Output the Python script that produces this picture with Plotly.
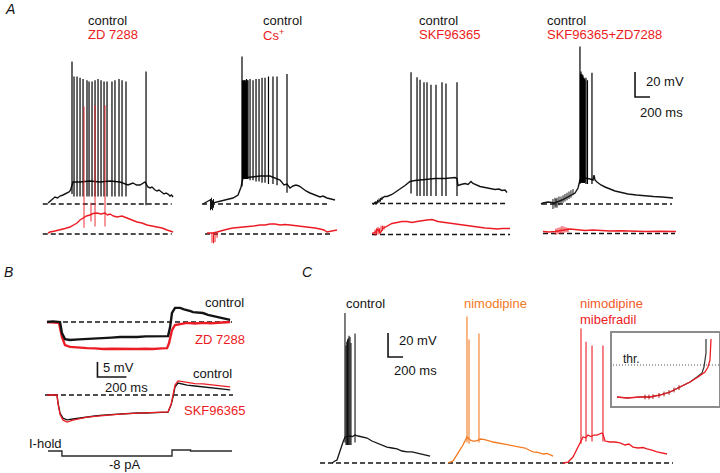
import plotly.graph_objects as go

W, H = 720, 473
BLACK = "#141414"
SPIKE = "#000000"
RED = "#ec1c24"
ORANGE = "#f47a22"
ORANGE_RED = "#f15a29"
GRAY = "#8c8c8c"
FONT = "Liberation Sans, Arial, sans-serif"

# ================= DATA =================
# Panel A  (time in ms from trace start, voltage in mV relative to the dashed rest level)
SCALE_A_MS, SCALE_A_MV = 200, 20
SCALE_B_MS, SCALE_B_MV = 200, 5
SCALE_C_MS, SCALE_C_MV = 200, 20

a1_titles = ["control", "ZD 7288"]
a2_titles = ["control", "Cs<sup>+</sup>"]
a3_titles = ["control", "SKF96365"]
a4_titles = ["control", "SKF96365+ZD7288"]

# column 1: control / ZD 7288
a1_ctrl_t = [0, 27, 53, 93, 127, 160, 200, 227, 253, 280, 300, 320, 333, 427, 560, 693, 827, 960, 1053, 1067,
             1100, 1133, 1180, 1227, 1293, 1307, 1333, 1360, 1387, 1427, 1453, 1480, 1520, 1547, 1573, 1600, 1627, 1647, 1667]
a1_ctrl_v = [0.8, 2.4, 4, 5.6, 4.8, 6.4, 7.2, 8, 8.8, 9.6, 11, 15.2, 17.6, 17.6, 18.4, 17.6, 18.4, 17.6, 16, 15.2,
             16, 16.8, 15.2, 15.2, 17.6, 16, 13.6, 12.8, 13.6, 11.2, 10.4, 11.2, 8.8, 8, 8.8, 8, 6.4, 7.2, 5.6]
a1_ctrl_spk_t = [320, 347, 387, 427, 467, 520, 547, 587, 627, 667, 707, 747, 787, 853, 893, 947, 987, 1040, 1307]
a1_ctrl_spk_pk = [114, 102, 102, 101, 100, 99, 98, 98, 99, 100, 99, 98, 98, 98, 99, 100, 99, 98, 106]
a1_ctrl_spk_tr = [8, 6, 6, 6, 6, 6, 6, 6, 6, 6, 6, 6, 6, 6, 6, 6, 6, 6, -1]
a1_drug_t = [0, 27, 93, 160, 227, 293, 340, 387, 427, 467, 513, 560, 600, 653, 707, 760, 793, 827, 873, 920,
             987, 1053, 1120, 1187, 1253, 1320, 1387, 1453, 1520, 1587, 1627, 1667]
a1_drug_v = [0.8, 1.6, 2.4, 3.2, 4.4, 5.6, 7.2, 8.8, 11.2, 12.8, 14.4, 15.2, 16.4, 16.8, 16, 16.8, 15.2, 16, 14.4, 13.6,
             14.4, 12.8, 11.2, 9.6, 8.8, 7.2, 6.4, 5.6, 4.8, 3.2, 2.4, 1.6]
a1_drug_spk_t = [480, 573, 627, 760]
a1_drug_spk_pk = [102, 25, 103, 103]
a1_drug_spk_tr = [5, 10, 6, 6]
a1_ctrl_rest = [-70, 1650]
a1_drug_rest = [-70, 1650]

# column 2: control / Cs+
a2_ctrl_t = [0, 53, 93, 133, 187, 227, 267, 333, 400, 467, 507, 533, 627, 760, 893, 960, 1027, 1080, 1120, 1160,
             1200, 1240, 1280, 1320, 1373, 1427, 1493, 1560, 1600, 1653, 1707, 1760]
a2_ctrl_v = [0, 1.6, 3.2, 0.8, 1.6, 2.4, 3.2, 4, 4.8, 7.2, 13.6, 20.8, 21.6, 22.4, 22.4, 20.8, 19.2, 15.2, 16, 12.8,
             14.4, 15.2, 14.4, 12.8, 10.4, 8.8, 7.2, 5.6, 6.4, 4.8, 4, 3.2]
a2_ctrl_spk_t = [520, 527, 533, 540, 547, 553, 560, 567, 573, 580, 590, 600, 627, 667, 707, 747, 787, 827, 873, 933, 987, 1120]
a2_ctrl_spk_pk = [118, 99, 98, 99, 98, 99, 99, 98, 99, 100, 99, 99, 100, 99, 100, 100, 101, 101, 102, 102, 102, 104]
a2_ctrl_spk_tr = [14, 20, 20, 20, 20, 20, 20, 20, 20, 20, 20, 20, 19, 19, 18, 18, 17, 17, 16, 16, 15, 9]
a2_ctrl_art_t = [100, 113, 127, 140]
a2_ctrl_art_lo = [-5, -4, -5, -3]
a2_ctrl_art_hi = [4, 5, 3, 4]
a2_drug_t = [53, 93, 133, 187, 227, 267, 333, 400, 493, 587, 673, 760, 827, 893, 960, 1027, 1093, 1160, 1227, 1293,
             1360, 1427, 1493, 1560, 1613, 1653, 1693, 1733, 1787]
a2_drug_v = [0.8, 0.8, 0.8, 1.6, 2.4, 3.2, 4, 4.8, 5.2, 5.6, 6.4, 7.2, 7.2, 8, 8, 7.2, 7.6, 7.2, 6.8, 6.4,
             6, 5.6, 4.8, 4, 3.2, 1.6, 2, 2.4, 3.2]
a2_drug_art_t = [120, 140, 160, 187]
a2_drug_art_lo = [-7, -7.5, -6.5, -3]
a2_drug_art_hi = [1, 1, 1, 1.6]
a2_ctrl_rest = [-13, 1693]
a2_drug_rest = [27, 1733]

# column 3: control / SKF96365
a3_ctrl_t = [0, 27, 53, 80, 120, 153, 187, 253, 333, 427, 493, 560, 693, 827, 960, 1093, 1120, 1133, 1173, 1227,
             1267, 1307, 1333, 1360, 1427, 1493, 1560, 1627, 1680, 1720, 1760, 1787]
a3_ctrl_v = [-0.8, 0.8, 0.8, 2.4, 4, 5.6, 5.6, 7.2, 10.4, 14.4, 17.6, 18.4, 19.2, 20, 20, 20.8, 20, 14.4, 15.2, 16,
             15.2, 17.6, 16, 15.2, 13.6, 12.8, 12, 11.2, 11.6, 10.4, 10.8, 8.8]
a3_ctrl_spk_t = [507, 587, 627, 680, 720, 773, 840, 920, 973, 1120]
a3_ctrl_spk_pk = [105, 101, 99, 97, 97, 95, 95, 97, 96, 97]
a3_ctrl_spk_tr = [8, 6, 6, 6, 6, 6, 6, 6, 6, 6]
a3_ctrl_art_t = [40, 60, 80, 100, 120]
a3_ctrl_art_lo = [-1, 0, 0.5, 1.5, 3]
a3_ctrl_art_hi = [2, 3, 4, 4.5, 5.5]
a3_drug_t = [-13, 27, 67, 93, 133, 160, 200, 253, 320, 387, 453, 520, 587, 653, 720, 787, 827, 867, 960, 1053,
             1140, 1227, 1313, 1400, 1493, 1587, 1653, 1720, 1827]
a3_drug_v = [0.8, 1.6, 4, 0.8, 4.8, 5.6, 7.2, 8.8, 9.6, 10.4, 10.4, 9.6, 10.4, 11.2, 11.6, 12, 11.2, 10.4, 9.6, 8.8,
             8, 7.2, 6.4, 5.6, 5.2, 4.8, 4.4, 4.8, 4.8]
a3_drug_art_t = [27, 47, 67, 87, 107, 127, 147]
a3_drug_art_lo = [-1, 0, 0, 1, 2, 3, 4]
a3_drug_art_hi = [4, 5, 6, 5, 7, 7, 7]
a3_ctrl_rest = [-13, 1800]
a3_drug_rest = [-13, 1827]

# column 4: control / SKF96365+ZD7288
a4_ctrl_t = [-27, 0, 67, 160, 253, 333, 427, 467, 493, 520, 560, 627, 667, 680, 693, 720, 773, 827, 893, 960,
             1047, 1133, 1247, 1360, 1473, 1587, 1660, 1733]
a4_ctrl_v = [0, 0.8, 1.6, 0.8, 3.2, 5.6, 8.8, 12.8, 19.2, 20, 20.8, 20, 19.2, 23, 19.2, 17.6, 15.2, 13.6, 12, 10.4,
             9.2, 8, 7.2, 6.4, 6, 5.6, 5.2, 4.8]
a4_ctrl_spk_t = [493, 500, 507, 513, 520, 527, 533, 540, 547, 553, 560, 573, 593, 653]
a4_ctrl_spk_pk = [126, 104, 106, 103, 104, 102, 103, 101, 101, 100, 99, 101, 99, 105]
a4_ctrl_spk_tr = [16, 17, 17, 17, 17, 17, 17, 17, 17, 17, 17, 16, 16, 16]
a4_ctrl_art_t = [133, 160, 173, 187, 213, 240, 267, 293, 320, 347, 373, 400]
a4_ctrl_art_lo = [-4, -3, -2, -3, -1, 0, 1, 2, 3, 4, 5, 7]
a4_ctrl_art_hi = [4, 5, 4, 5, 6, 6, 7, 8, 9, 10, 11, 12]
a4_drug_t = [0, 80, 160, 227, 293, 360, 427, 493, 560, 667, 760, 893, 1027, 1193, 1360, 1560, 1773]
a4_drug_v = [1.6, 1.2, 1.6, 2.4, 3.2, 3.6, 3.2, 2.8, 2.4, 2.8, 2.4, 2, 2.2, 1.8, 1.6, 1.8, 1.6]
a4_drug_art_t = [173, 200, 227, 253, 280, 307, 333]
a4_drug_art_lo = [-1, -0.5, 0, 0, 0.5, 1, 1]
a4_drug_art_hi = [4, 4.5, 5, 6, 5.5, 5, 4.5]
a4_ctrl_rest = [-13, 1720]
a4_drug_rest = [0, 1760]

# Panel B  (ms, mV)
b_top_labels = ["control", "ZD 7288"]
b_bot_labels = ["control", "SKF96365"]
b_top_ctrl_t = [0, 40, 90, 103, 124, 159, 220, 276, 330, 386, 445, 504, 560, 621, 680, 731, 790, 835, 849, 862,
                883, 918, 945, 966, 990, 1007, 1040, 1076, 1110, 1145, 1180, 1214, 1240, 1263]
b_top_ctrl_v = [0, 0.2, 0, -3.7, -5.7, -6, -5.8, -5.7, -5.5, -5.3, -5.2, -5, -5.1, -5, -4.8, -4.7, -4.8, -4.7, -1.7, 3,
                4.7, 4.7, 4.2, 4, 3.6, 3.3, 3.2, 3, 2.4, 2, 1.7, 1.3, 1, 0.7]
b_top_drug_t = [0, 40, 83, 103, 124, 159, 220, 276, 330, 386, 445, 504, 560, 621, 680, 731, 790, 828, 842, 862,
                883, 920, 966, 1020, 1076, 1130, 1194, 1263]
b_top_drug_v = [0, -0.2, -0.3, -5, -7.7, -8.3, -8.6, -8.7, -8.8, -9, -8.9, -9, -9.1, -9, -8.9, -9, -8.8, -8.7, -7, -2.7,
                -1, -0.6, -0.3, -0.5, -0.3, -0.4, -0.3, 0]
b_top_rest = [0, 1276]
b_bot_ctrl_t = [0, 69, 76, 90, 110, 138, 179, 230, 276, 330, 386, 445, 504, 560, 621, 680, 731, 790, 835, 856,
                869, 883, 904, 935, 966, 1020, 1076, 1135, 1194, 1230, 1263]
b_bot_ctrl_v = [0, 0, -2.7, -6, -7.7, -8.3, -8, -7.6, -7.3, -7, -6.7, -6.5, -6.3, -6.2, -6, -6, -6, -5.8, -5.7, -3.3,
                -0.7, 2.7, 4, 3.6, 3.3, 3, 2.7, 2.5, 2.3, 2, 1.7]
b_bot_drug_t = [0, 69, 76, 90, 110, 138, 179, 230, 276, 330, 386, 445, 504, 560, 621, 680, 731, 790, 835, 856,
                869, 883, 904, 935, 966, 1020, 1076, 1135, 1194, 1230, 1263]
b_bot_drug_v = [0, 0, -2.9, -6.5, -8.3, -9, -8.4, -7.8, -7.4, -7.1, -6.8, -6.6, -6.4, -6.2, -6.1, -6, -5.9, -5.8, -5.6, -3.1,
                -0.3, 3.3, 4.7, 4.5, 4.1, 3.8, 3.7, 3.3, 3, 2.9, 2.7]
b_bot_rest = [-14, 1283]
b_cur_t = [7, 103, 103, 862, 862, 990, 990, 1276]      # ms
b_cur_i = [0, 0, -8, -8, 1.6, 1.6, 0, 0]               # pA
b_cur_labels = ["I-hold", "-8 pA"]

# Panel C  (ms, mV)
c_labels = ["control", "nimodipine", "nimodipine", "mibefradil"]
c_ctrl_t = [0, 13, 40, 67, 107, 147, 173, 200, 240, 273, 307, 347, 400, 467, 533, 600, 667, 733, 800, 867,
            933, 1000, 1067, 1133, 1200, 1253, 1307]
c_ctrl_v = [0, 0.8, 1.7, 2.5, 10.8, 17.5, 21.7, 22, 22.5, 22, 23.3, 22.5, 21.7, 20.8, 18.3, 16.7, 15, 13.3, 12.5, 11.7,
            10, 9.2, 9.2, 8.3, 7.5, 6.7, 5.8]
c_ctrl_spk_t = [173, 187, 197, 207, 217, 227, 240, 253, 307]
c_ctrl_spk_pk = [125, 98, 101, 103, 104, 106, 105, 100, 108]
c_ctrl_spk_tr = [17, 15, 15, 15, 15, 15, 15, 15, 17]
c_nim_t = [0, 67, 133, 200, 253, 293, 333, 360, 413, 427, 473, 520, 560, 600, 667, 720, 787, 853, 907, 960,
           1027, 1080, 1133, 1200, 1267, 1320, 1360, 1400]
c_nim_v = [0, 1.7, 8.3, 15, 21.7, 19.2, 18.3, 18.3, 19.2, 20, 19.6, 19.2, 18.3, 17.5, 16.7, 15.8, 15, 14.2, 13.3, 13.3,
           12.5, 10.8, 9.2, 8.8, 7.5, 7.9, 6.7, 5.8]
c_nim_spk_t = [253, 280, 413]
c_nim_spk_pk = [122, 103, 108]
c_nim_spk_tr = [17, 16, 17]
c_mib_t = [0, 67, 133, 200, 240, 267, 300, 333, 373, 413, 453, 493, 520, 533, 560, 627, 693, 760, 827, 880,
           933, 1000, 1067, 1120, 1187, 1253, 1320, 1387]
c_mib_v = [0, 0.8, 5, 13.3, 19.2, 21.7, 21, 23.3, 22, 23.3, 23.3, 24, 25, 24, 18.3, 17.5, 17.5, 16.7, 15, 15.8,
           13.3, 12.5, 12.9, 11.7, 10.8, 9.2, 8.3, 7.5]
c_mib_spk_t = [240, 307, 387, 533]
c_mib_spk_pk = [112, 101, 98, 98]
c_mib_spk_tr = [16, 18, 18, 18]
c_rest = [-160, 4547]

# inset (ms, mV relative to threshold)
inset_label = "thr."
inset_ctrl_t = [0, 20, 46, 66, 86, 106, 126, 146, 160, 170, 174, 178, 178]
inset_ctrl_v = [-16, -16.5, -16, -16, -15, -13.5, -11, -8.5, -6, -4, -1, 6, 13]
inset_drug_t = [0, 20, 46, 66, 86, 106, 126, 146, 162, 176, 182, 186, 188]
inset_drug_v = [-16, -16.5, -16, -16, -15, -13.5, -11, -8.5, -6, -3.5, -1, 2.5, 13]
inset_tick_t = [56, 64, 72, 84, 94, 104, 114, 124]
inset_tick_lo = [-17.2, -17.2, -17, -16.4, -15.7, -14.9, -13.7, -12.5]
inset_tick_hi = [-14.8, -14.8, -14.6, -14, -13.3, -12.5, -11.3, -10.1]
inset_thr = 0

# ================= FIGURE =================
fig = go.Figure()
layout = {}
_n = [0]


def axes(L, R, T, B, x0px, y0px, sx, sy, frame=False):
    """Create a hidden axis pair whose domain is the pixel box L..R, T..B."""
    _n[0] += 1
    s = "" if _n[0] == 1 else str(_n[0])
    xa = dict(domain=[L / W, R / W], range=[(L - x0px) / sx, (R - x0px) / sx],
              anchor="y" + s, fixedrange=True)
    ya = dict(domain=[1 - B / H, 1 - T / H], range=[(y0px - B) / sy, (y0px - T) / sy],
              anchor="x" + s, fixedrange=True)
    for a in (xa, ya):
        if frame:
            a.update(visible=True, showticklabels=False, ticks="", showgrid=False, zeroline=False,
                     showline=True, mirror=True, linecolor=GRAY, linewidth=1.5)
        else:
            a.update(visible=False)
    layout["xaxis" + s] = xa
    layout["yaxis" + s] = ya
    return ("x" + s, "y" + s)


def line(ax, t, v, color, width=1.3, dash=None, opacity=1.0):
    fig.add_trace(go.Scatter(x=t, y=v, mode="lines", xaxis=ax[0], yaxis=ax[1],
                             line=dict(color=color, width=width, dash=dash, shape="linear"),
                             opacity=opacity, hoverinfo="skip", showlegend=False,
                             connectgaps=False))


def vsegs(ax, t, lo, hi, color, width=1.0, opacity=1.0):
    xs, ys = [], []
    for a, b, c in zip(t, lo, hi):
        xs += [a, a, None]
        ys += [b, c, None]
    line(ax, xs, ys, color, width, opacity=opacity)


def rest(ax, span, width=1.5):
    line(ax, span, [0, 0], BLACK, width, dash="5px,3px")


def scalebar(ax, t0, v0, dt, dv):
    line(ax, [t0, t0, t0 + dt], [v0 + dv, v0, v0], BLACK, 1.6)


ann = []


def label(text, x, y, color=BLACK, size=13, xanchor="left", italic=False):
    ann.append(dict(text=text, x=x / W, y=1 - y / H, xref="paper", yref="paper",
                    xanchor=xanchor, yanchor="middle", showarrow=False,
                    font=dict(family=FONT, size=size, color=color,
                              style="italic" if italic else "normal")))


SX_A, SY_A = 15 / 200, 25 / 20
# ---- Panel A ----
colA = [
    (38, 182, 48, 204, 234, a1_titles, 86,
     (a1_ctrl_t, a1_ctrl_v, a1_ctrl_spk_t, a1_ctrl_spk_pk, a1_ctrl_spk_tr, None, a1_ctrl_rest),
     (a1_drug_t, a1_drug_v, a1_drug_spk_t, a1_drug_spk_pk, a1_drug_spk_tr, None, a1_drug_rest)),
    (195, 345, 203, 204, 234, a2_titles, 261,
     (a2_ctrl_t, a2_ctrl_v, a2_ctrl_spk_t, a2_ctrl_spk_pk, a2_ctrl_spk_tr,
      (a2_ctrl_art_t, a2_ctrl_art_lo, a2_ctrl_art_hi), a2_ctrl_rest),
     (a2_drug_t, a2_drug_v, None, None, None,
      (a2_drug_art_t, a2_drug_art_lo, a2_drug_art_hi), a2_drug_rest)),
    (365, 515, 373, 203.5, 234.5, a3_titles, 417,
     (a3_ctrl_t, a3_ctrl_v, a3_ctrl_spk_t, a3_ctrl_spk_pk, a3_ctrl_spk_tr,
      (a3_ctrl_art_t, a3_ctrl_art_lo, a3_ctrl_art_hi), a3_ctrl_rest),
     (a3_drug_t, a3_drug_v, None, None, None,
      (a3_drug_art_t, a3_drug_art_lo, a3_drug_art_hi), a3_drug_rest)),
    (535, 705, 543, 204, 233.5, a4_titles, 545,
     (a4_ctrl_t, a4_ctrl_v, a4_ctrl_spk_t, a4_ctrl_spk_pk, a4_ctrl_spk_tr,
      (a4_ctrl_art_t, a4_ctrl_art_lo, a4_ctrl_art_hi), a4_ctrl_rest),
     (a4_drug_t, a4_drug_v, None, None, None,
      (a4_drug_art_t, a4_drug_art_lo, a4_drug_art_hi), a4_drug_rest)),
]
axA4 = None
for (L, R, x0, yc, yd, titles, tx, ctrl, drug) in colA:
    axc = axes(L, R, 40, 215, x0, yc, SX_A, SY_A)
    axd = axes(L, R, 95, 250, x0, yd, SX_A, SY_A)
    axA4 = axc
    for ax, tr, col, scol, opa in ((axc, ctrl, BLACK, SPIKE, 1.0), (axd, drug, RED, RED, 0.75)):
        t, v, st, sp, stro, art, rs = tr
        rest(ax, rs)
        if art is not None:
            vsegs(ax, art[0], art[1], art[2], col, 1.0)
        line(ax, t, v, col, 1.4)
        if st is not None:
            vsegs(ax, st, stro, sp, scol, 1.2, opacity=opa)
    label(titles[0], tx, 20)
    label(titles[1], tx, 35, RED)

scalebar(axA4, 1227, 85.6, SCALE_A_MS, SCALE_A_MV)
label(f"{SCALE_A_MV} mV", 644, 82)
label(f"{SCALE_A_MS} ms", 638, 112)
label("A", 3, 9, size=14, italic=True)

# ---- Panel B ----
SX_B, SY_B = 29 / 200, 15 / 5
axBt = axes(40, 245, 295, 360, 47, 322, SX_B, SY_B)
axBb = axes(40, 245, 355, 430, 47, 395, SX_B, SY_B)
axBi = axes(40, 245, 440, 462, 47, 451, SX_B, 5 / 8)
rest(axBt, b_top_rest, 1.3)
line(axBt, b_top_drug_t, b_top_drug_v, RED, 2.4)
line(axBt, b_top_ctrl_t, b_top_ctrl_v, BLACK, 2.4)
rest(axBb, b_bot_rest, 1.3)
line(axBb, b_bot_ctrl_t, b_bot_ctrl_v, BLACK, 1.3)
line(axBb, b_bot_drug_t, b_bot_drug_v, RED, 1.3)
line(axBi, b_cur_t, b_cur_i, "#2a2a2a", 1.4)
scalebar(axBb, 348, 6, SCALE_B_MS, SCALE_B_MV)
label(b_top_labels[0], 203, 302)
label(b_top_labels[1], 193, 339, RED)
label(b_bot_labels[0], 191, 373)
label(b_bot_labels[1], 182, 410, RED)
label(f"{SCALE_B_MV} mV", 101, 367)
label(f"{SCALE_B_MS} ms", 103, 387)
label(b_cur_labels[0], 27, 443)
label(b_cur_labels[1], 107, 464)
label("B", 2, 272, size=14, italic=True)

# ---- Panel C ----
SX_C, SY_C = 15 / 200, 24 / 20
axCc = axes(315, 680, 295, 470, 332, 463, SX_C, SY_C)
axCn = axes(440, 560, 295, 470, 448, 463, SX_C, SY_C)
axCm = axes(555, 675, 295, 470, 563, 463, SX_C, SY_C)
rest(axCc, c_rest)
for ax, t, v, st, sp, stro, col in (
        (axCc, c_ctrl_t, c_ctrl_v, c_ctrl_spk_t, c_ctrl_spk_pk, c_ctrl_spk_tr, BLACK),
        (axCn, c_nim_t, c_nim_v, c_nim_spk_t, c_nim_spk_pk, c_nim_spk_tr, ORANGE),
        (axCm, c_mib_t, c_mib_v, c_mib_spk_t, c_mib_spk_pk, c_mib_spk_tr, RED)):
    line(ax, t, v, col, 1.3)
    vsegs(ax, st, stro, sp, col, 1.1)
scalebar(axCc, 747, 88.3, SCALE_C_MS, SCALE_C_MV)
label(f"{SCALE_C_MV} mV", 397, 340)
label(f"{SCALE_C_MS} ms", 392, 370)
label(c_labels[0], 344, 303)
label(c_labels[1], 462, 303, ORANGE)
label(c_labels[2], 578, 303, ORANGE_RED)
label(c_labels[3], 578, 319, RED)
label("C", 300, 272, size=14, italic=True)

# inset
axI = axes(612, 719, 333, 406, 617, 365, 0.5, 2.0, frame=True)
line(axI, [-20, 220], [inset_thr, inset_thr], "#555555", 1.0, dash="1px,2px")
line(axI, inset_ctrl_t, inset_ctrl_v, "#333333", 1.2)
line(axI, inset_drug_t, inset_drug_v, RED, 1.3)
vsegs(axI, inset_tick_t, inset_tick_lo, inset_tick_hi, "#b01818", 1.0)
label(inset_label, 621, 359, size=12)

fig.update_layout(
    width=W, height=H, autosize=False,
    margin=dict(l=0, r=0, t=0, b=0, pad=0),
    paper_bgcolor="white", plot_bgcolor="rgba(0,0,0,0)",
    showlegend=False, hovermode=False,
    annotations=ann,
    font=dict(family=FONT),
    **layout,
)
fig.write_html("out.html", config={"displayModeBar": False},
               post_script="document.body.style.margin='0';document.body.style.overflow='hidden';")
